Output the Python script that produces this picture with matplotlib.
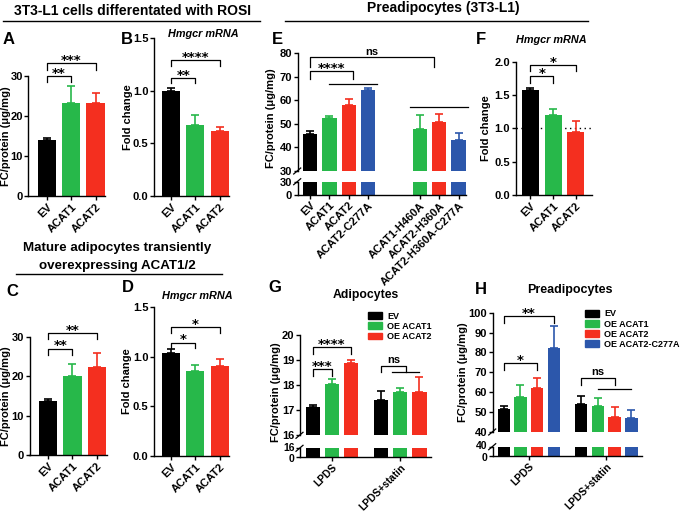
import matplotlib
matplotlib.use("Agg")
import matplotlib.pyplot as plt
import matplotlib.transforms as mtransforms
from matplotlib.lines import Line2D
from matplotlib.patches import Patch

plt.rcParams["font.family"] = ["Liberation Sans", "DejaVu Sans"]
plt.rcParams["font.weight"] = "bold"

W, H = 683, 514
BLACK, GREEN, RED, BLUE = "#000000", "#27b84a", "#f42f1f", "#2c57ab"
TICK_FS = 8

# ---- data ----
three_cats = ["EV", "ACAT1", "ACAT2"]

a_fc = [14.1, 23.2, 23.2]
a_sem = [0.5, 4.4, 2.6]

b_fold = [1.0, 0.68, 0.62]
b_sem = [0.025, 0.09, 0.04]

c_fc = [13.6, 20.0, 22.4]
c_sem = [0.6, 3.1, 3.4]

d_fold = [1.04, 0.86, 0.91]
d_sem = [0.035, 0.06, 0.07]

e_cats = ["EV", "ACAT1", "ACAT2", "ACAT2-C277A",
          "ACAT1-H460A", "ACAT2-H360A", "ACAT2-H360A-C277A"]
e_pos = [0, 1, 2, 3, 5.67, 6.67, 7.67]
e_fc = [45.8, 52.4, 58.1, 64.3, 48.0, 50.8, 43.1]
e_sem = [1.4, 1.1, 2.4, 1.0, 5.7, 3.4, 3.1]

f_fold = [1.57, 1.20, 0.95]
f_sem = [0.03, 0.095, 0.155]

g_groups = ["LPDS", "LPDS+statin"]
g_series = ["EV", "OE ACAT1", "OE ACAT2"]
g_fc = [[17.11, 18.05, 18.90], [17.39, 17.72, 17.74]]
g_sem = [[0.10, 0.20, 0.10], [0.37, 0.18, 0.58]]

h_groups = ["LPDS", "LPDS+statin"]
h_series = ["EV", "OE ACAT1", "OE ACAT2", "OE ACAT2-C277A"]
h_fc = [[51.8, 57.5, 62.2, 82.3], [53.9, 53.0, 47.3, 47.0]]
h_sem = [[1.2, 5.9, 4.9, 11.1], [4.3, 4.2, 5.2, 4.3]]

three_colors = [BLACK, GREEN, RED]
four_colors = [BLACK, GREEN, RED, BLUE]
e_colors = [BLACK, GREEN, RED, BLUE, GREEN, RED, BLUE]

fig = plt.figure(figsize=(W / 100, H / 100), dpi=100)


def px_axes(x0, y0, x1, y1):
    return fig.add_axes([x0 / W, 1 - y1 / H, (x1 - x0) / W, (y1 - y0) / H])


def style(ax, show_bottom=True):
    for s in ("top", "right"):
        ax.spines[s].set_visible(False)
    ax.spines["left"].set_linewidth(1.0)
    ax.spines["bottom"].set_linewidth(1.0)
    ax.tick_params(width=1.0, length=3, labelsize=TICK_FS, pad=1)
    if not show_bottom:
        ax.spines["bottom"].set_visible(False)
        ax.tick_params(axis="x", bottom=False, labelbottom=False)


def bars(ax, x, means, errs, colors, width=0.74):
    ax.bar(x, means, width=width, color=colors, zorder=2)
    for xi, m, e, c in zip(x, means, errs, colors):
        ax.errorbar(xi, m, yerr=[[0], [e]], fmt="none", ecolor=c,
                    elinewidth=1.2, capsize=2.6, capthick=1.2, zorder=3)


def bracket(ax, x1, x2, y, leg1, leg2, label):
    ax.plot([x1, x1, x2, x2], [leg1, y, y, leg2], color="black", lw=0.9,
            clip_on=False, zorder=4)
    if label == "ns":
        ax.annotate(label, xy=((x1 + x2) / 2, y), xytext=(0, 0.2),
                    textcoords="offset points", ha="center", va="bottom",
                    fontsize=8, annotation_clip=False)
    else:
        ax.annotate(label, xy=((x1 + x2) / 2, y), xytext=(0, -2.8),
                    textcoords="offset points", ha="center", va="bottom",
                    fontsize=9.5, family="DejaVu Sans",
                    annotation_clip=False)


def hline(ax, x1, x2, y):
    ax.plot([x1, x2], [y, y], color="black", lw=0.9, clip_on=False)


def ftext(x, y, s, **kw):
    fig.text(x / W, 1 - y / H, s, **kw)


def fline(x0, x1, y):
    fig.add_artist(Line2D([x0 / W, x1 / W], [1 - y / H, 1 - y / H],
                          color="black", lw=1.0))


def break_marks(x, y_top, y_bot):
    for y in (y_top, y_bot):
        fig.add_artist(Line2D([(x - 4) / W, (x + 3) / W],
                              [1 - (y + 3) / H, 1 - (y - 3) / H],
                              color="black", lw=0.9))


def spread_stub_labels(axb, shift_px):
    # the short lower segment has its two tick labels nearly touching
    lo, hi = axb.get_yticklabels()
    lo.set_transform(lo.get_transform() + mtransforms.Affine2D().translate(0, -shift_px))
    hi.set_transform(hi.get_transform() + mtransforms.Affine2D().translate(0, shift_px))


def xlabels(ax, pos, labels, fs=TICK_FS):
    ax.set_xticks(pos)
    ax.set_xticklabels(labels, rotation=45, ha="right",
                       rotation_mode="anchor", fontsize=fs)


def simple_panel(box, vals, errs, ylim, yticks, yticklabels, xlim):
    ax = px_axes(*box)
    style(ax)
    bars(ax, [0, 1, 2], vals, errs, three_colors)
    ax.set_xlim(*xlim)
    ax.set_ylim(*ylim)
    ax.set_yticks(yticks)
    ax.set_yticklabels(yticklabels)
    xlabels(ax, [0, 1, 2], three_cats)
    return ax


fc_ticks = ([0, 10, 20, 30], ["0", "10", "20", "30"])
fold_ticks = ([0, 0.5, 1.0, 1.5], ["0.0", "0.5", "1.0", "1.5"])

# ---- A ----
ax = simple_panel((28.3, 76, 105.3, 196), a_fc, a_sem, (0, 30),
                  *fc_ticks, (-0.75, 2.4))
bracket(ax, 0, 1, 30.0, 28.6, 28.6, "**")
bracket(ax, 0, 2, 33.3, 31.5, 31.5, "***")

# ---- B ----
ax = simple_panel((154, 38.3, 229.4, 196), b_fold, b_sem, (0, 1.5),
                  *fold_ticks, (-0.71, 2.4))
bracket(ax, 0, 1, 1.126, 1.072, 1.072, "**")
bracket(ax, 0, 2, 1.294, 1.237, 1.237, "****")

# ---- C ----
ax = simple_panel((29.5, 336.7, 106.8, 455), c_fc, c_sem, (0, 30),
                  *fc_ticks, (-0.75, 2.4))
bracket(ax, 0, 1, 27.0, 25.4, 25.4, "**")
bracket(ax, 0, 2, 31.0, 29.4, 29.4, "**")

# ---- D ----
ax = simple_panel((154, 307.3, 229.4, 456), d_fold, d_sem, (0, 1.5),
                  *fold_ticks, (-0.71, 2.4))
bracket(ax, 0, 1, 1.144, 1.087, 1.087, "*")
bracket(ax, 0, 2, 1.305, 1.245, 1.245, "*")

# ---- E (broken axis) ----
e_xlim = (-0.634, 8.05)
ax = px_axes(297.7, 53.3, 466, 171)
style(ax, show_bottom=False)
bars(ax, e_pos, e_fc, e_sem, e_colors)
ax.set_xlim(*e_xlim)
ax.set_ylim(30, 80)
ax.set_yticks([30, 40, 50, 60, 70, 80])
bracket(ax, 0, 6.4, 78.3, 74.3, 74.3, "ns")
bracket(ax, 0, 2.22, 72.6, 69.0, 69.0, "****")
hline(ax, 1.0, 3.45, 67.0)
hline(ax, 5.15, 8.15, 57.1)
axb = px_axes(297.7, 181.7, 466, 194.7)
style(axb)
axb.bar(e_pos, e_fc, width=0.74, color=e_colors)
axb.set_xlim(*e_xlim)
axb.set_ylim(0, 30)
axb.set_yticks([0, 30])
xlabels(axb, e_pos, e_cats)
break_marks(297.7, 171, 181.7)

# ---- F ----
ax = simple_panel((515.7, 61.7, 592, 195), f_fold, f_sem, (0, 2.0),
                  [0, 0.5, 1.0, 1.5, 2.0], ["0.0", "0.5", "1.0", "1.5", "2.0"],
                  (-0.65, 2.71))
ax.axhline(1.0, color="black", lw=1.0, ls=(0, (1, 2.5)), zorder=1)
bracket(ax, 0, 1, 1.785, 1.685, 1.685, "*")
bracket(ax, 0, 2, 1.955, 1.855, 1.855, "*")


# ---- grouped broken panels ----
def grouped(box_top, box_bot, centers, offsets, means, errs, colors,
            xlim, ylim_top, yticks_top, brk, groups):
    ax = px_axes(*box_top)
    style(ax, show_bottom=False)
    axb = px_axes(*box_bot)
    style(axb)
    for gi, c0 in enumerate(centers):
        xs = [c0 + o for o in offsets]
        bars(ax, xs, means[gi], errs[gi], colors)
        axb.bar(xs, means[gi], width=0.74, color=colors)
    ax.set_xlim(*xlim)
    ax.set_ylim(*ylim_top)
    ax.set_yticks(yticks_top)
    axb.set_xlim(*xlim)
    axb.set_ylim(0, brk)
    axb.set_yticks([0, brk])
    axb.tick_params(axis="y", labelsize=7.5)
    spread_stub_labels(axb, 1.3)
    xlabels(axb, centers, groups, fs=7.4)
    break_marks(box_top[0], box_top[3], box_bot[1])
    return ax


legend_kw = dict(loc="upper left", bbox_transform=fig.transFigure,
                 frameon=False, fontsize=6.5, handlelength=1.55,
                 handleheight=0.8, labelspacing=0.12, handletextpad=0.55,
                 borderaxespad=0, borderpad=0)

g_centers = [0, 3.6]
ax = grouped((300, 335, 430.7, 435.3), (300, 448.3, 430.7, 456.7),
             g_centers, [-1, 0, 1], g_fc, g_sem, three_colors,
             (-1.68, 5.19), (16, 20), [16, 17, 18, 19, 20], 16, g_groups)
bracket(ax, -1, 1, 19.51, 19.24, 19.24, "****")
bracket(ax, -1, 0, 18.64, 18.38, 18.38, "***")
bracket(ax, 2.6, 3.9, 18.78, 18.51, 18.51, "ns")
hline(ax, 3.15, 4.6, 18.51)
ax.legend(handles=[Patch(color=c, label=l) for c, l in zip(three_colors, g_series)],
          bbox_to_anchor=(368 / W, 1 - 312 / H), **legend_kw)

h_centers = [0, 4.64]
ax = grouped((492.7, 312.7, 641.7, 432), (492.7, 446.7, 641.7, 456),
             h_centers, [-1.5, -0.5, 0.5, 1.5], h_fc, h_sem, four_colors,
             (-2.16, 6.76), (40, 100), [40, 50, 60, 70, 80, 90, 100], 40,
             h_groups)
bracket(ax, -1.5, 1.5, 98.3, 94.6, 94.6, "**")
bracket(ax, -1.5, 0.5, 74.8, 71.1, 71.1, "*")
bracket(ax, 3.14, 5.14, 67.4, 63.6, 63.6, "ns")
hline(ax, 4.14, 6.14, 61.4)
ax.legend(handles=[Patch(color=c, label=l) for c, l in zip(four_colors, h_series)],
          bbox_to_anchor=(585 / W, 1 - 309.5 / H), **legend_kw)

# ---- y labels ----
ylab = dict(rotation=90, ha="center", va="center", fontsize=8)
ftext(6, 136, "FC/protein (\u03bcg/mg)", **ylab)
ftext(128, 117, "Fold change", **ylab)
ftext(6, 396, "FC/protein (\u03bcg/mg)", **ylab)
ftext(127, 381, "Fold change", **ylab)
ftext(271, 118, "FC/protein (\u03bcg/mg)", **ylab)
ftext(486, 128, "Fold change", **ylab)
ftext(276, 392, "FC/protein (\u03bcg/mg)", **ylab)
ftext(463, 372, "FC/protein (\u03bcg/mg)", **ylab)

# ---- panel letters ----
letter = dict(fontsize=12, ha="center", va="center")
for s, x, y in [("A", 9, 40), ("B", 127, 40), ("C", 12, 292), ("D", 128, 288),
                ("E", 277, 40), ("F", 481, 39), ("G", 275, 287), ("H", 481, 289)]:
    ftext(x, y, s, **letter)

# ---- titles ----
ital = dict(fontsize=7.8, style="italic", ha="center", va="center")
ftext(203, 34, "Hmgcr mRNA", **ital)
ftext(197, 296, "Hmgcr mRNA", **ital)
ftext(551, 40, "Hmgcr mRNA", **ital)
ftext(366, 295, "Adipocytes", fontsize=8.8, ha="center", va="center")
ftext(570, 290, "Preadipocytes", fontsize=9, ha="center", va="center")

head = dict(fontsize=10, ha="center", va="center")
ftext(133, 11, "3T3-L1 cells differentated with ROSI", **head)
fline(3, 260, 21)
ftext(443, 8, "Preadipocytes (3T3-L1)", **head)
fline(285, 588, 20.7)
ftext(117, 248, "Mature adipocytes transiently", fontsize=9.6,
      ha="center", va="center")
ftext(117, 266, "overexpressing ACAT1/2", fontsize=9.6,
      ha="center", va="center")
fline(16, 222, 274)

fig.savefig("out.png", dpi=100)
